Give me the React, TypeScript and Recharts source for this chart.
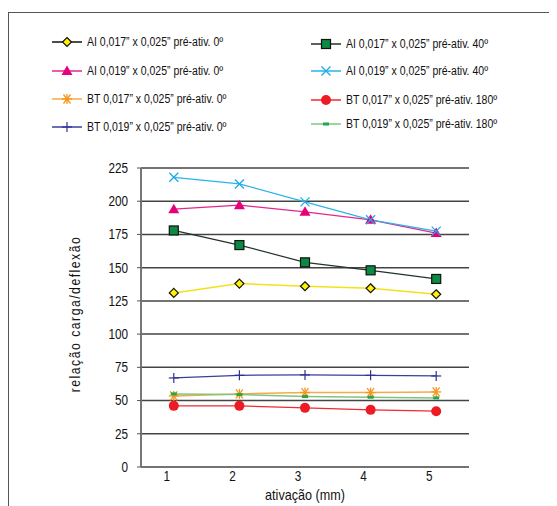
import { LineChart, Line, XAxis, YAxis, CartesianGrid } from "recharts";

const activation = [1, 2, 3, 4, 5];
const yTicks = [0, 25, 50, 75, 100, 125, 150, 175, 200, 225];
const bandEdges = [1.5, 2.5, 3.5, 4.5, 5.5];

const ai017_0 = [131, 138, 136, 134.5, 130];
const ai019_0 = [194, 197, 192, 186, 176];
const bt017_0 = [53.5, 55, 56, 56, 56.5];
const bt019_0 = [67, 69, 69.3, 69, 68.5];
const ai017_40 = [178, 167, 154, 148, 141.5];
const ai019_40 = [218, 213, 199.5, 186, 177.5];
const bt017_180 = [46, 46, 44.5, 43, 42];
const bt019_180 = [55, 54.5, 53, 52.5, 52];

const FONT = "'Liberation Sans', Arial, sans-serif";
const SQUEEZE = 0.84;

type Shape = "diamond" | "triangle" | "asterisk" | "plus" | "square" | "cross" | "circle" | "dash";

interface SeriesDef {
  key: string;
  name: string;
  values: number[];
  line: string;
  legendLine: string;
  fill: string;
  shape: Shape;
  width: number;
}

const series: SeriesDef[] = [
  { key: "ai017_0", name: "AI 0,017” x 0,025” pré-ativ. 0º", values: ai017_0, line: "#f2e21a", legendLine: "#111", fill: "#fff200", shape: "diamond", width: 1.5 },
  { key: "ai019_0", name: "AI 0,019” x 0,025” pré-ativ. 0º", values: ai019_0, line: "#e8258e", legendLine: "#e8258e", fill: "#e6007e", shape: "triangle", width: 1.2 },
  { key: "bt017_0", name: "BT 0,017” x 0,025” pré-ativ. 0º", values: bt017_0, line: "#f8a94a", legendLine: "#f8a94a", fill: "#f7941d", shape: "asterisk", width: 1.5 },
  { key: "bt019_0", name: "BT 0,019” x 0,025” pré-ativ. 0º", values: bt019_0, line: "#3a3f9a", legendLine: "#3a3f9a", fill: "#2e3192", shape: "plus", width: 1.2 },
  { key: "ai017_40", name: "AI 0,017” x 0,025” pré-ativ. 40º", values: ai017_40, line: "#22332a", legendLine: "#22332a", fill: "#0a8a43", shape: "square", width: 1.2 },
  { key: "ai019_40", name: "AI 0,019” x 0,025” pré-ativ. 40º", values: ai019_40, line: "#2bb3ea", legendLine: "#2bb3ea", fill: "#1fa9e6", shape: "cross", width: 1.2 },
  { key: "bt017_180", name: "BT 0,017” x 0,025” pré-ativ. 180º", values: bt017_180, line: "#ee2a32", legendLine: "#ee2a32", fill: "#ed1c24", shape: "circle", width: 1.2 },
  { key: "bt019_180", name: "BT 0,019” x 0,025” pré-ativ. 180º", values: bt019_180, line: "#7cc77f", legendLine: "#7cc77f", fill: "#22a84a", shape: "dash", width: 1.5 },
];

const chartData = activation.map((x, i) => {
  const row: Record<string, number> = { x };
  series.forEach((s) => (row[s.key] = s.values[i]));
  return row;
});

function Marker({ cx, cy, s }: { cx: number; cy: number; s: SeriesDef }) {
  switch (s.shape) {
    case "diamond":
      return <path d={`M${cx},${cy - 4.5}L${cx + 4.5},${cy}L${cx},${cy + 4.5}L${cx - 4.5},${cy}Z`} fill={s.fill} stroke="#111" strokeWidth={1.2} />;
    case "triangle":
      return <path d={`M${cx},${cy - 5.5}L${cx + 5.5},${cy + 4}L${cx - 5.5},${cy + 4}Z`} fill={s.fill} />;
    case "asterisk":
      return (
        <g stroke={s.fill} strokeWidth={1.3}>
          <line x1={cx - 5} y1={cy} x2={cx + 5} y2={cy} />
          <line x1={cx - 3.5} y1={cy - 4.5} x2={cx + 3.5} y2={cy + 4.5} />
          <line x1={cx + 3.5} y1={cy - 4.5} x2={cx - 3.5} y2={cy + 4.5} />
          <line x1={cx} y1={cy - 5} x2={cx} y2={cy + 5} />
        </g>
      );
    case "plus":
      return (
        <g stroke={s.fill} strokeWidth={1.2}>
          <line x1={cx - 5} y1={cy} x2={cx + 5} y2={cy} />
          <line x1={cx} y1={cy - 5} x2={cx} y2={cy + 5} />
        </g>
      );
    case "square":
      return <rect x={cx - 4.5} y={cy - 4.5} width={9} height={9} fill={s.fill} stroke="#111" strokeWidth={1.2} />;
    case "cross":
      return (
        <g stroke={s.fill} strokeWidth={1.3}>
          <line x1={cx - 4.5} y1={cy - 4.5} x2={cx + 4.5} y2={cy + 4.5} />
          <line x1={cx + 4.5} y1={cy - 4.5} x2={cx - 4.5} y2={cy + 4.5} />
        </g>
      );
    case "circle":
      return <circle cx={cx} cy={cy} r={5} fill={s.fill} />;
    default:
      return <rect x={cx - 3} y={cy - 1.5} width={6} height={3} fill={s.fill} />;
  }
}

// condensed-looking tick text, squeezed horizontally around its anchor
function Tick({ x, y, payload, anchor, dx = 0, dy = 0 }: any) {
  return (
    <text
      transform={`translate(${x + dx},${y + dy}) scale(${SQUEEZE},1)`}
      textAnchor={anchor}
      dominantBaseline="central"
      fontFamily={FONT}
      fontSize={14}
      fill="#111"
    >
      {payload.value}
    </text>
  );
}

function LegendItem({ s, x, y }: { s: SeriesDef; x: number; y: number }) {
  return (
    <div style={{ position: "absolute", left: x, top: y - 8, height: 16, display: "flex", alignItems: "center", whiteSpace: "nowrap" }}>
      <svg width={30} height={16} style={{ marginRight: 5, flex: "none" }}>
        <line x1={0} y1={8} x2={30} y2={8} stroke={s.legendLine} strokeWidth={1.5} />
        <Marker cx={15} cy={8} s={s} />
      </svg>
      <span
        style={{
          display: "inline-block",
          fontFamily: FONT,
          fontSize: 12.5,
          color: "#111",
          transform: `scaleX(${SQUEEZE})`,
          transformOrigin: "left center",
        }}
      >
        {s.name}
      </span>
    </div>
  );
}

const legendLeft = [
  [44, 34],
  [44, 63],
  [44, 91],
  [44, 119],
];
const legendRight = [
  [303, 36],
  [303, 63],
  [303, 92],
  [303, 116],
];

export default function App() {
  return (
    <div style={{ position: "relative", width: 549, height: 498, overflow: "hidden" }}>
      <div style={{ position: "absolute", left: 0, top: 4, right: -10, bottom: -10, borderLeft: "1.5px solid #555", borderTop: "1.5px solid #555" }} />
      {series.map((s, i) => {
        const pos = i < 4 ? legendLeft[i] : legendRight[i - 4];
        return <LegendItem key={s.key} s={s} x={pos[0]} y={pos[1]} />;
      })}
      <div
        style={{
          position: "absolute",
          left: 67,
          top: 306,
          transform: `translate(-50%, -50%) rotate(-90deg) scaleX(${SQUEEZE})`,
          fontFamily: FONT,
          fontSize: 14.5,
          letterSpacing: 1.8,
          whiteSpace: "nowrap",
          color: "#111",
        }}
      >
        relação carga/deflexão
      </div>
      <div
        style={{
          position: "absolute",
          left: 297,
          top: 486,
          transform: `translate(-50%, -50%) scaleX(${SQUEEZE})`,
          fontFamily: FONT,
          fontSize: 15,
          whiteSpace: "nowrap",
          color: "#111",
        }}
      >
        ativação (mm)
      </div>
      <div style={{ position: "absolute", left: 0, top: 0 }}>
        <LineChart width={549} height={498} data={chartData} margin={{ top: 160, right: 88, bottom: 9, left: 73 }}>
          <CartesianGrid vertical={false} stroke="#444" strokeWidth={1.5} />
          <XAxis
            xAxisId="edges"
            dataKey="x"
            type="number"
            domain={[0.5, 5.5]}
            ticks={bandEdges}
            tick={false}
            height={0}
            tickSize={4}
            axisLine={{ stroke: "#111", strokeWidth: 1.5 }}
            tickLine={{ stroke: "#111" }}
          />
          <XAxis
            dataKey="x"
            type="number"
            domain={[0.5, 5.5]}
            ticks={activation}
            height={30}
            axisLine={false}
            tickLine={false}
            tick={<Tick anchor="middle" dx={-7} dy={1} />}
          />
          <YAxis
            domain={[0, 225]}
            ticks={yTicks}
            width={60}
            tickSize={4}
            tickMargin={9}
            axisLine={{ stroke: "#777", strokeWidth: 2 }}
            tickLine={{ stroke: "#555" }}
            tick={<Tick anchor="end" />}
          />
          {series.map((s) => (
            <Line
              key={s.key}
              dataKey={s.key}
              name={s.name}
              stroke={s.line}
              strokeWidth={s.width}
              isAnimationActive={false}
              dot={(p: any) => (
                <g key={`${s.key}-${p.index}`}>
                  <Marker cx={p.cx} cy={p.cy} s={s} />
                </g>
              )}
              activeDot={false}
            />
          ))}
        </LineChart>
      </div>
    </div>
  );
}
